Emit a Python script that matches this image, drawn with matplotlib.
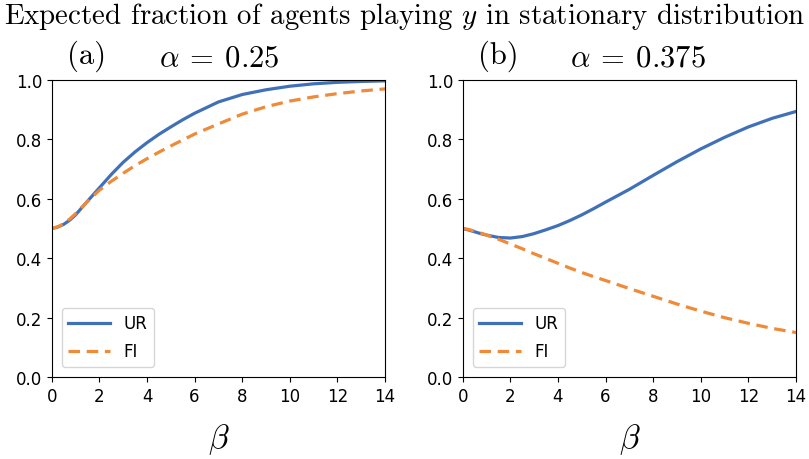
import matplotlib
matplotlib.use('Agg')
import matplotlib.pyplot as plt

plt.rcParams['mathtext.fontset'] = 'cm'

# β grid and read-off curves
beta = [0, 0.25, 0.5, 0.75, 1, 1.5, 2, 2.5, 3, 3.5, 4, 4.5, 5, 5.5, 6,
        7, 8, 9, 10, 11, 12, 13, 14]

ur_a = [0.500, 0.505, 0.514, 0.528, 0.546, 0.592, 0.637, 0.682, 0.723, 0.758,
        0.789, 0.817, 0.842, 0.866, 0.888, 0.926, 0.951, 0.967, 0.979, 0.987,
        0.992, 0.995, 0.997]
fi_a = [0.500, 0.506, 0.516, 0.532, 0.550, 0.591, 0.629, 0.659, 0.686, 0.712,
        0.735, 0.757, 0.778, 0.798, 0.818, 0.852, 0.885, 0.910, 0.929, 0.943,
        0.954, 0.963, 0.970]

ur_b = [0.500, 0.495, 0.489, 0.483, 0.478, 0.470, 0.468, 0.473, 0.483, 0.496,
        0.510, 0.527, 0.546, 0.567, 0.589, 0.632, 0.679, 0.725, 0.768, 0.807,
        0.842, 0.871, 0.894]
fi_b = [0.500, 0.497, 0.491, 0.485, 0.478, 0.464, 0.448, 0.432, 0.415, 0.399,
        0.383, 0.367, 0.352, 0.338, 0.325, 0.298, 0.272, 0.246, 0.222, 0.200,
        0.181, 0.164, 0.150]

panels = [('(a)', r'$\alpha\:=\:0.25$', ur_a, fi_a),
          ('(b)', r'$\alpha\:=\:0.375$', ur_b, fi_b)]

C_UR = '#4071b8'
C_FI = '#ef8a38'

fig = plt.figure(figsize=(8.09, 4.6), dpi=100)
lefts = [0.064, 0.572]
width = 0.412

for (tag, alpha, ur, fi), left in zip(panels, lefts):
    ax = fig.add_axes([left, 0.178, width, 0.646])
    ax.plot(beta, ur, color=C_UR, lw=2.3, label='UR')
    ax.plot(beta, fi, color=C_FI, lw=2.3, ls=(0, (3.6, 2.1)), label='FI')
    ax.set_xlim(0, 14)
    ax.set_ylim(0, 1)
    ax.set_xticks(range(0, 15, 2))
    ax.set_yticks([0, 0.2, 0.4, 0.6, 0.8, 1.0])
    ax.tick_params(labelsize=12)
    ax.set_xlabel(r'$\beta$', fontsize=24, labelpad=12)
    ax.legend(loc='lower left', fontsize=12, handlelength=2.5,
              borderaxespad=0.6, labelspacing=0.6)
    # panel heading: tag and alpha
    ax.text(0.045, 1.03, tag, transform=ax.transAxes, fontsize=22,
            family='cmr10', ha='left', va='bottom')
    ax.text(0.322, 1.03, alpha, transform=ax.transAxes, fontsize=22,
            ha='left', va='bottom')

fig.text(0.5, 0.965, r'Expected fraction of agents playing $y$ in stationary distribution',
         fontsize=20.8, family='cmr10', ha='center', va='center')

fig.savefig('out.png', dpi=100)
